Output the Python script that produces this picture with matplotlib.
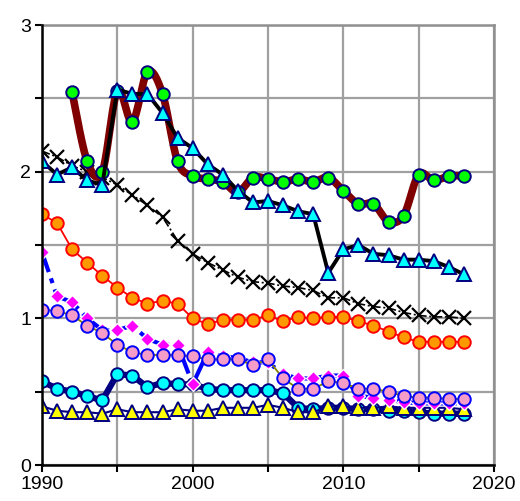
import numpy as np
import matplotlib
matplotlib.use("Agg")
import matplotlib.pyplot as plt

plt.rcParams['font.family'] = ['Liberation Sans', 'DejaVu Sans']

years = list(range(1990, 2019))

# Series 1: maroon smoothed line, green circles (1992-2018)
s1_years = list(range(1992, 2019))
s1 = [2.54, 2.07, 2.00, 2.55, 2.34, 2.68, 2.53, 2.07, 1.97, 1.95,
      1.93, 1.86, 1.96, 1.95, 1.93, 1.95, 1.93, 1.96, 1.87, 1.78,
      1.78, 1.66, 1.70, 1.98, 1.94, 1.97, 1.97]

# Series 2: black line, cyan triangles
s2 = [2.07, 1.98, 2.03, 1.94, 1.91, 2.56, 2.53, 2.53, 2.40, 2.23,
      2.16, 2.05, 1.98, 1.87, 1.79, 1.80, 1.77, 1.73, 1.71, 1.31,
      1.47, 1.50, 1.44, 1.43, 1.40, 1.40, 1.39, 1.35, 1.30]

# Series 3: black dash-dot line, X markers
s3 = [2.14, 2.10, 2.04, 2.00, 1.96, 1.91, 1.84, 1.77, 1.69, 1.53,
      1.44, 1.38, 1.33, 1.28, 1.25, 1.24, 1.22, 1.21, 1.19, 1.14,
      1.14, 1.10, 1.08, 1.07, 1.04, 1.02, 1.01, 1.01, 1.00]

# Series 4: red line, orange circles
s4 = [1.71, 1.65, 1.47, 1.38, 1.29, 1.21, 1.14, 1.10, 1.12, 1.10,
      1.00, 0.96, 0.99, 0.99, 0.99, 1.02, 0.98, 1.01, 1.00, 1.01,
      1.01, 0.98, 0.95, 0.91, 0.87, 0.84, 0.84, 0.84, 0.84]

# Series 5: blue dash-dot line, magenta diamonds
s5 = [1.45, 1.15, 1.11, 1.00, 0.92, 0.92, 0.95, 0.86, 0.82, 0.82,
      0.55, 0.77, 0.74, 0.73, 0.70, 0.70, 0.62, 0.59, 0.59, 0.61,
      0.61, 0.47, 0.46, 0.44, 0.43, 0.42, 0.42, 0.42, 0.42]

# Series 6: olive line, pink circles
s6 = [1.06, 1.05, 1.02, 0.95, 0.90, 0.82, 0.77, 0.75, 0.75, 0.75,
      0.74, 0.72, 0.72, 0.72, 0.68, 0.72, 0.59, 0.52, 0.52, 0.57,
      0.56, 0.52, 0.52, 0.50, 0.47, 0.46, 0.46, 0.45, 0.45]

# Series 7: navy thick line, cyan circles
s7 = [0.57, 0.52, 0.50, 0.47, 0.44, 0.62, 0.61, 0.53, 0.56, 0.55,
      0.55, 0.52, 0.51, 0.51, 0.51, 0.51, 0.49, 0.39, 0.38, 0.39,
      0.39, 0.38, 0.38, 0.37, 0.37, 0.36, 0.35, 0.35, 0.35]

# Series 8: navy thin line, yellow triangles
s8 = [0.40, 0.37, 0.36, 0.36, 0.35, 0.38, 0.36, 0.36, 0.36, 0.38,
      0.37, 0.37, 0.39, 0.39, 0.39, 0.41, 0.39, 0.36, 0.36, 0.40,
      0.40, 0.39, 0.39, 0.40, 0.39, 0.39, 0.39, 0.39, 0.38]

x_ticks = [1990, 1995, 2000, 2005, 2010, 2015, 2020]
x_labels = ['1990', '', '2000', '', '2010', '', '2020']
y_ticks = [0, 0.5, 1, 1.5, 2, 2.5, 3]
y_labels = ['0', '', '1', '', '2', '', '3']


def catmull_rom(x, y, n=16):
    p = np.column_stack([x, y]).astype(float)
    p = np.vstack([p[0], p, p[-1]])
    out = []
    t = np.linspace(0, 1, n, endpoint=False)[:, None]
    for i in range(1, len(p) - 2):
        p0, p1, p2, p3 = p[i - 1], p[i], p[i + 1], p[i + 2]
        seg = 0.5 * ((2 * p1) + (-p0 + p2) * t +
                     (2 * p0 - 5 * p1 + 4 * p2 - p3) * t ** 2 +
                     (-p0 + 3 * p1 - 3 * p2 + p3) * t ** 3)
        out.append(seg)
    out.append(p[-2][None, :])
    out = np.vstack(out)
    return out[:, 0], out[:, 1]


fig = plt.figure(figsize=(5.2, 5.01), dpi=100)
ax = fig.add_axes([42 / 520, 1 - 465 / 501, 452 / 520, 440 / 501])

dashdot = (0, (5, 1.6, 1.2, 1.6))

# X series
ax.plot(years, s3, color='black', lw=1.2, linestyle=dashdot, zorder=3)
ax.plot(years, s3, linestyle='none', marker='x', ms=10, mew=1.6,
        color='black', zorder=3)

# red/orange
ax.plot(years, s4, color='#FF0000', lw=1.3, marker='o', ms=9,
        mfc='#FF9900', mec='#FF0000', mew=1.4, zorder=4)

# navy thick, cyan circles
ax.plot(years, s7, color='#000080', lw=4.5, marker='o', ms=9,
        mfc='#00FFFF', mec='#000080', mew=1.4, zorder=4)

# navy thin, yellow triangles
ax.plot(years, s8, color='#000080', lw=1.5, marker='^', ms=10,
        mfc='#FFFF00', mec='#000080', mew=1.4, zorder=5)

# blue dash-dot, magenta diamonds
ax.plot(years, s5, color='#0000FF', lw=3, linestyle=dashdot, zorder=5)
ax.plot(years, s5, linestyle='none', marker='D', ms=7,
        mfc='#FF00FF', mec='white', mew=1.0, zorder=5)

# olive, pink circles
ax.plot(years, s6, color='#808000', lw=1.3, marker='o', ms=9,
        mfc='#F59CC8', mec='#0000FF', mew=1.4, zorder=6)

# maroon smoothed, green circles
sx, sy = catmull_rom(s1_years, s1)
ax.plot(sx, sy, color='#800000', lw=5.5, solid_capstyle='round', zorder=6)
ax.plot(s1_years, s1, linestyle='none', marker='o', ms=9,
        mfc='#00FF00', mec='#000080', mew=1.4, zorder=6)

# black, cyan triangles
ax.plot(years, s2, color='black', lw=2.8, marker='^', ms=10,
        mfc='#00FFFF', mec='#000080', mew=1.4, zorder=7)

ax.set_xlim(1990, 2020)
ax.set_ylim(0, 3)
ax.set_xticks(x_ticks)
ax.set_xticklabels(x_labels)
ax.set_yticks(y_ticks)
ax.set_yticklabels(y_labels)
ax.grid(True, color='#A0A0A0', lw=1.6, zorder=0)
ax.set_axisbelow(True)
for side in ['top', 'right']:
    ax.spines[side].set_color('#909090')
    ax.spines[side].set_linewidth(1.8)
for side in ['left', 'bottom']:
    ax.spines[side].set_color('black')
    ax.spines[side].set_linewidth(1.8)
    ax.spines[side].set_zorder(8)
ax.tick_params(direction='out', length=5, width=1.5, labelsize=14,
               colors='black', pad=3)

fig.savefig('out.png', dpi=100)
